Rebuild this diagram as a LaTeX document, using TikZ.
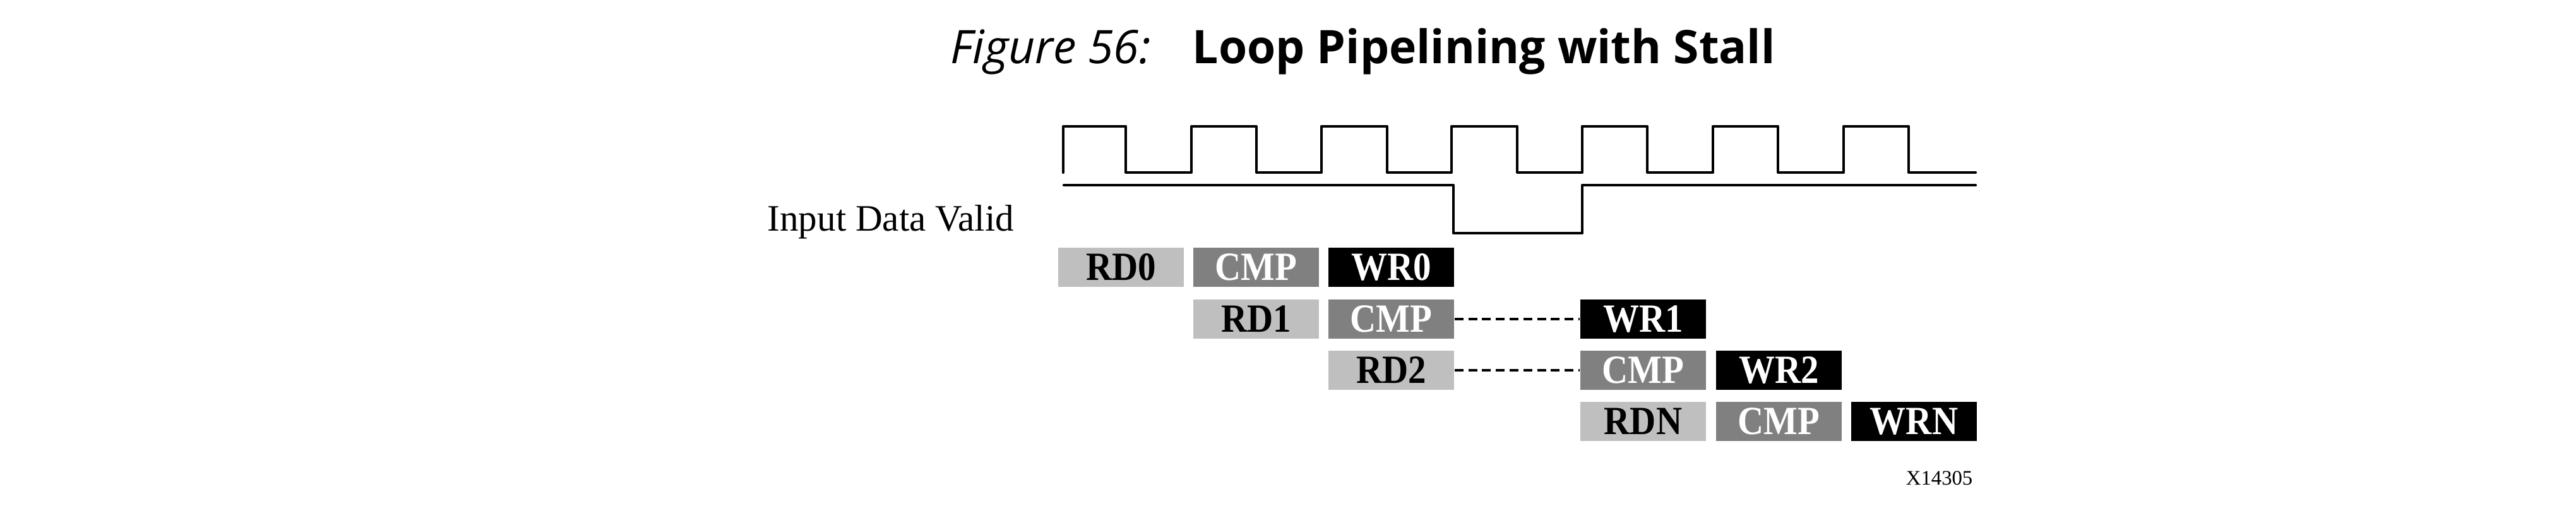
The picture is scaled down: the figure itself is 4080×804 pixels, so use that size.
\documentclass[tikz,border=0pt]{standalone}
\usepackage{fontspec}
\setmainfont{Liberation Serif}
\newfontfamily\titlefont{Open Sans}
\newfontfamily\boxfont[FakeStretch=0.9]{Liberation Serif}
\definecolor{rdgray}{RGB}{191,191,191}
\definecolor{cmpgray}{RGB}{128,128,128}
\tikzset{
  stage/.style={minimum width=1.99cm, minimum height=0.61cm, inner sep=0pt,
    font=\boxfont\bfseries\fontsize{18}{19}\selectfont},
  rdbox/.style={stage, fill=rdgray, text=black},
  cmpbox/.style={stage, fill=cmpgray, text=white},
  wrbox/.style={stage, fill=black, text=white},
  wave/.style={line width=1.2pt, line join=round, line cap=round},
  stall/.style={line width=0.9pt, dash pattern=on 4pt off 2.2pt},
}
\begin{document}
\begin{tikzpicture}[x=0.01cm, y=-0.01cm]
\useasboundingbox (0,0) rectangle (4080,804);

% title
\node[anchor=base west, inner sep=0pt, font=\titlefont\itshape\fontsize{20.8}{24}\selectfont] (fig) at (1505,101) {Figure 56:};
\node[anchor=base west, inner sep=0pt, font=\titlefont\bfseries\fontsize{20.8}{24}\selectfont] (ttl) at (1888,101) {Loop Pipelining with Stall};

% clock
\draw[wave] (1684,273) -- (1684,200) -- (1783,200) -- (1783,273) -- (1887,273) -- (1887,200)
  -- (1990,200) -- (1990,273) -- (2093,273) -- (2093,200) -- (2197,200) -- (2197,273)
  -- (2299,273) -- (2299,200) -- (2403,200) -- (2403,273) -- (2506,273) -- (2506,200)
  -- (2609,200) -- (2609,273) -- (2713,273) -- (2713,200) -- (2816,200) -- (2816,273)
  -- (2920,273) -- (2920,200) -- (3023,200) -- (3023,273) -- (3129,273);

% input data valid
\draw[wave] (1685,293) -- (2302,293) -- (2302,369) -- (2506,369) -- (2506,293) -- (3129,293);
\node[anchor=base west, inner sep=0pt, font=\fontsize{16.8}{20}\selectfont] (lbl) at (1215,366) {Input Data Valid};

% pipeline stages
\node[rdbox]  (rd0)  at (1775.5,423) {RD0};
\node[cmpbox] (cmp0) at (1989.5,423) {CMP};
\node[wrbox]  (wr0)  at (2203.5,423) {WR0};

\node[rdbox]  (rd1)  at (1989.5,505) {RD1};
\node[cmpbox] (cmp1) at (2203.5,505) {CMP};
\node[wrbox]  (wr1)  at (2602.5,505) {WR1};

\node[rdbox]  (rd2)  at (2203.5,586) {RD2};
\node[cmpbox] (cmp2) at (2602.5,586) {CMP};
\node[wrbox]  (wr2)  at (2817.5,586) {WR2};

\node[rdbox]  (rdn)  at (2602.5,667) {RDN};
\node[cmpbox] (cmpn) at (2817.5,667) {CMP};
\node[wrbox]  (wrn)  at (3031.5,667) {WRN};

% stall connectors
\draw[stall] (cmp1.east) -- (wr1.west);
\draw[stall] (rd2.east) -- (cmp2.west);

\node[anchor=base east, inner sep=0pt, font=\fontsize{9.3}{11}\selectfont] (xid) at (3125,768) {X14305};
\end{tikzpicture}
\end{document}
